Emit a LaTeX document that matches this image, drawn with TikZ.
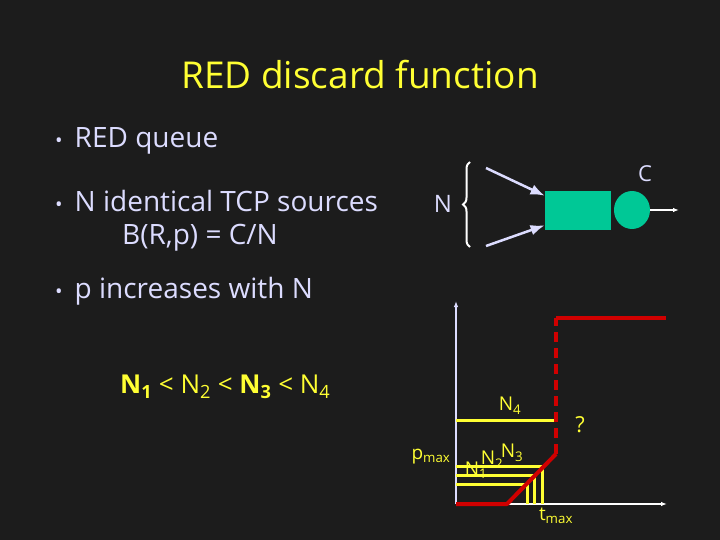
\documentclass[tikz,border=0pt]{standalone}
\usepackage{fontspec}
\setmainfont{Open Sans}
\usetikzlibrary{arrows.meta,positioning,shapes.geometric,decorations.pathreplacing}
\definecolor{slidebg}{HTML}{1C1C1C}
\definecolor{lavtext}{HTML}{DCDCFF}
\definecolor{yeltext}{HTML}{FFFF33}
\definecolor{queuegreen}{HTML}{00C896}
\definecolor{curvered}{HTML}{D00000}

\begin{document}
\begin{tikzpicture}[x=1pt,y=-1pt,>=Latex,
  bullettext/.style={anchor=west,text=lavtext,font=\fontsize{28}{32}\selectfont,inner sep=0pt},
  smalllab/.style={text=yeltext,font=\fontsize{19}{21}\selectfont,inner sep=0pt},
  yline/.style={draw=yeltext,line width=3pt},
  redline/.style={draw=curvered,line width=4pt}]
\fill[slidebg] (0,0) rectangle (720,540);
\useasboundingbox (0,0) rectangle (720,540);
% title and bullets
\node[text=yeltext,font=\fontsize{37}{42}\selectfont] (title) at (360,75) {RED discard function};
\node[bullettext] (b1) at (55,141) {{\fontsize{20}{24}\selectfont\textbullet}\hspace{12pt}RED queue};
\node[bullettext] (b2) at (55,201) {{\fontsize{20}{24}\selectfont\textbullet}\hspace{12pt}N identical TCP sources};
\node[bullettext] (b2a) at (122,238) {B(R,p) = C/N};
\node[bullettext] (b3) at (55,291) {{\fontsize{20}{24}\selectfont\textbullet}\hspace{12pt}p increases with N};
\node[anchor=west,text=yeltext,font=\fontsize{26}{30}\selectfont,inner sep=0pt] (order) at (120,387) {\textbf{N\textsubscript{1}} < N\textsubscript{2} < \textbf{N\textsubscript{3}} < N\textsubscript{4}};
% queue sketch
\coordinate (brbot) at (470,247);
\coordinate (brtop) at (470,162);
\draw[white,line width=2pt,decorate,decoration={brace,amplitude=7pt}] (brbot) -- (brtop);
\node[text=lavtext,font=\fontsize{24}{28}\selectfont] (nlab) at (443,204) {N};
\node[fill=queuegreen,minimum width=66pt,minimum height=39pt,inner sep=0pt] (queue) at (578,210.5) {};
\node[fill=queuegreen,ellipse,minimum width=36pt,minimum height=38pt,inner sep=0pt] (server) at (632,210) {};
\node[text=lavtext,font=\fontsize{22}{26}\selectfont] (clab) at (645,174) {C};
\coordinate (src1) at (486,168);
\coordinate (src2) at (486,246);
\coordinate (out) at (679,210);
\draw[->,lavtext,line width=2.5pt] (src1) -- (queue.156);
\draw[->,lavtext,line width=2.5pt] (src2) -- (queue.204);
\draw[-{Latex[length=6pt]},white,line width=2pt] (server.east) -- (out);
% discard function plot
\coordinate (orig) at (456,504);
\coordinate (ytop) at (456,301);
\coordinate (xend) at (667,504);
\draw[-{Latex[length=6pt]},lavtext,line width=2pt] (orig) -- (ytop);
\draw[-{Latex[length=6pt]},white,line width=2.5pt] (orig) -- (xend);
\coordinate (kink1) at (507,504);
\coordinate (kink2) at (556,454);
\coordinate (jump) at (556,318);
\coordinate (redend) at (666,318);
\draw[yline] (456,420) -- (556,420);
\draw[yline] (456,466) -- (542,466) -- (542,504);
\draw[yline] (456,475) -- (534,475) -- (534,504);
\draw[yline] (456,484) -- (527,484) -- (527,504);
\draw[redline,line join=round] (orig) -- (kink1) -- (kink2);
\draw[redline,dash pattern=on 10pt off 6pt] (kink2) -- (jump);
\draw[redline] (jump) -- (redend);
\node[smalllab] (n4lab) at (510,406) {N\textsubscript{4}};
\node[text=yeltext,font=\fontsize{22}{24}\selectfont] (qlab) at (580,425) {?};
\node[smalllab] (pmaxlab) at (431,457) {p\textsubscript{max}};
\node[smalllab] (n1lab) at (476,470) {N\textsubscript{1}};
\node[smalllab] (n2lab) at (492,460) {N\textsubscript{2}};
\node[smalllab] (n3lab) at (512,453) {N\textsubscript{3}};
\node[smalllab] (tmaxlab) at (556,516) {t\textsubscript{max}};
\end{tikzpicture}
\end{document}
